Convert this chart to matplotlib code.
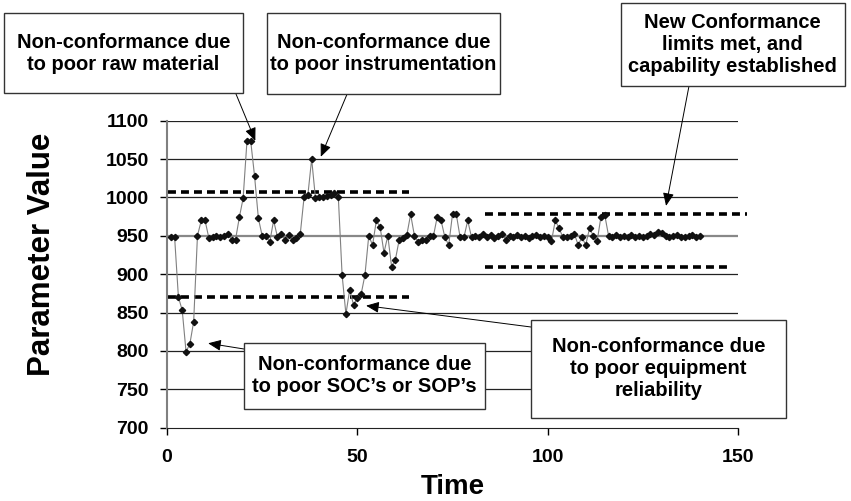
import matplotlib.pyplot as plt
from matplotlib.patches import Rectangle

plt.rcParams['font.family'] = ['Liberation Sans', 'DejaVu Sans']
plt.rcParams['font.weight'] = 'bold'

# process readings, one per time step (t = 1..140)
values = [948, 948, 870, 853, 799, 809, 838, 950, 970, 970,
          947, 948, 950, 948, 950, 952, 945, 945, 974, 999,
          1073, 1073, 1028, 973, 950, 950, 942, 970, 949, 953,
          945, 951, 945, 947, 952, 1000, 1003, 1050, 999, 1000,
          1000, 1002, 1003, 1006, 1001, 899, 848, 880, 860, 869,
          874, 899, 950, 938, 970, 961, 928, 950, 910, 919,
          945, 947, 951, 978, 950, 942, 945, 945, 950, 950,
          975, 970, 948, 938, 978, 978, 948, 948, 970, 948,
          950, 948, 952, 949, 951, 947, 950, 953, 945, 950,
          948, 951, 949, 950, 947, 950, 951, 948, 950, 949,
          943, 970, 960, 948, 948, 950, 953, 938, 948, 938,
          960, 950, 943, 975, 977, 950, 949, 951, 948, 950,
          949, 951, 948, 950, 949, 950, 952, 951, 955, 954,
          950, 948, 950, 951, 949, 948, 950, 951, 949, 950]
times = list(range(1, len(values) + 1))

old_limits = [1007, 870]   # upper, lower
new_limits = [978, 909]
center_line = 950

yticks = [700, 750, 800, 850, 900, 950, 1000, 1050, 1100]
xticks = [0, 50, 100, 150]

notes = [
    "Non-conformance due\nto poor raw material",
    "Non-conformance due\nto poor instrumentation",
    "New Conformance\nlimits met, and\ncapability established",
    "Non-conformance due\nto poor SOC\u2019s or SOP\u2019s",
    "Non-conformance due\nto poor equipment\nreliability",
]
# arrow targets in data units
note_targets = [(23.2, 1074), (40.4, 1053), (131.1, 989), (10.8, 810), (52.3, 859)]

W, H = 851, 501
fig = plt.figure(figsize=(W / 100, H / 100), dpi=100)
ax = fig.add_axes([167 / W, 1 - 427.7 / H, (738 - 167) / W, (427.7 - 120.7) / H])

for y in yticks[1:]:
    if y == center_line:
        ax.axhline(y, color='#888888', lw=1.6, zorder=1)
    else:
        ax.axhline(y, color='#222222', lw=0.9, zorder=1)

ax.plot(times, values, color='#808080', lw=0.8, marker='D', markersize=3.2,
        markerfacecolor='#111111', markeredgecolor='#111111', zorder=3)

dash = dict(color='black', lw=2.6, dashes=(2.2, 1.4), zorder=2, clip_on=False)
ax.plot([0.3, 63.6], [old_limits[0]] * 2, **dash)
ax.plot([0.3, 63.6], [old_limits[1]] * 2, **dash)
ax.plot([83.5, 152.3], [new_limits[0]] * 2, **dash)
ax.plot([83.5, 147.9], [new_limits[1]] * 2, **dash)

ax.set_xlim(0, 150)
ax.set_ylim(700, 1100)
ax.set_xticks(xticks)
ax.set_yticks(yticks)
ax.tick_params(axis='both', labelsize=14, length=5, width=1)
ax.tick_params(axis='y', pad=8)
ax.tick_params(axis='x', pad=10)
for lab in ax.get_xticklabels() + ax.get_yticklabels():
    lab.set_fontweight('bold')
ax.spines['top'].set_visible(False)
ax.spines['right'].set_visible(False)
ax.spines['left'].set_color('#808080')
ax.spines['left'].set_linewidth(1.5)
ax.spines['bottom'].set_color('#222222')
ax.set_xlabel('Time', fontsize=20, fontweight='bold', va='center')
ax.set_ylabel('Parameter Value', fontsize=22.5, fontweight='bold', va='center')
ax.xaxis.set_label_coords(0.5, -0.193)
ax.yaxis.set_label_coords(-0.219, 0.566)

# note boxes in figure pixels: left, top, right, bottom
boxes = [(4, 12.7, 243, 93.3), (267.3, 12.7, 500, 94.3), (620.7, 3.3, 845, 86),
         (244, 342.7, 485, 409), (530.7, 320, 786, 417.7)]
starts = [(236, 94), (347, 94.3), (689, 86), (244, 349), (531, 327)]

for text, (l, t, r, b), start, target in zip(notes, boxes, starts, note_targets):
    ax.annotate('', xy=target, xycoords='data',
                xytext=(start[0] / W, 1 - start[1] / H), textcoords='figure fraction',
                arrowprops=dict(arrowstyle='-|>,head_length=0.65,head_width=0.28',
                                color='#666666', fc='black', ec='black', lw=0.7,
                                mutation_scale=12, shrinkA=0, shrinkB=0),
                annotation_clip=False, zorder=6)
    fig.patches.append(Rectangle((l / W, 1 - b / H), (r - l) / W, (b - t) / H,
                                 transform=fig.transFigure, fc='white', ec='#333333',
                                 lw=1.0, zorder=7))
    fig.text((l + r) / 2 / W, 1 - (t + b) / 2 / H, text, ha='center', va='center',
             multialignment='center', fontsize=14.5, fontweight='bold',
             linespacing=1.2, zorder=8)

fig.savefig('out.png', dpi=100)
